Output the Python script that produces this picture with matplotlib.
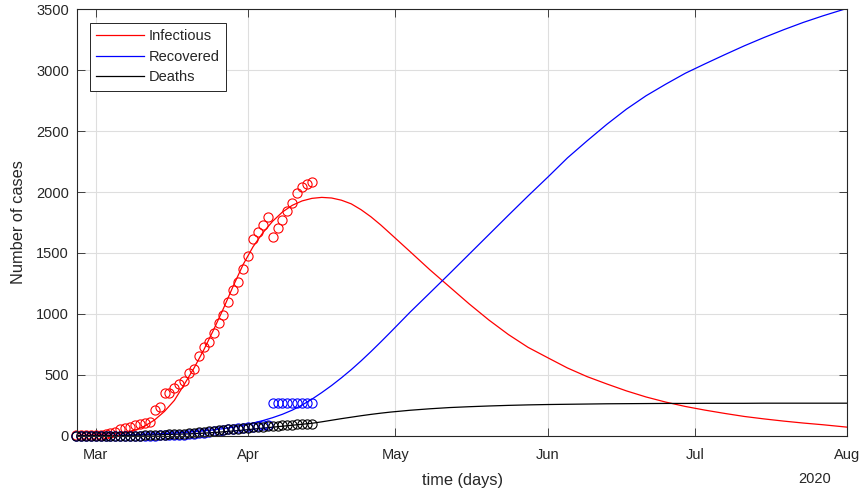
import numpy as np
import matplotlib
matplotlib.use('Agg')
import matplotlib.pyplot as plt
import matplotlib.dates as mdates

plt.rcParams['font.family'] = ['Liberation Sans', 'DejaVu Sans']

# ---------------- data ----------------
start_date = np.datetime64('2020-03-01')

# observations: day offsets from 1 March 2020
data_day = np.arange(-4, 45)
infectious_obs = [2, 2, 3, 3, 5, 8, 14, 25, 33, 52, 61, 74, 88, 96, 107, 116,
                  212, 237, 350, 352, 395, 425, 453, 515, 550, 653, 730, 769,
                  846, 928, 992, 1094, 1198, 1259, 1369, 1474, 1612, 1672,
                  1733, 1796, 1631, 1705, 1769, 1846, 1912, 1989, 2041, 2063, 2080]
recovered_obs = [0, 0, 0, 0, 0, 0, 0, 0, 0, 0, 0, 0, 0, 0, 0, 1, 1, 2, 2, 3, 4,
                 5, 8, 10, 15, 20, 25, 30, 35, 40, 46, 52, 58, 62, 66, 70, 74,
                 80, 85, 92, 267, 267, 267, 267, 267, 267, 267, 267, 267]
deaths_obs = [0, 0, 0, 0, 0, 0, 0, 0, 0, 0, 0, 0, 1, 1, 2, 3, 4, 6, 8, 10, 12,
              15, 18, 21, 24, 28, 32, 36, 40, 44, 48, 52, 56, 59, 62, 65, 68,
              71, 74, 77, 80, 83, 86, 88, 91, 93, 95, 97, 99]

# fitted model curves (day offsets from 1 March 2020)
model_day = [-4, -2, 0, 2, 4, 6, 8, 10, 12, 14, 16, 18, 20, 22, 24, 26, 28, 30,
             32, 34, 36, 38, 40, 42, 44, 46, 48, 50, 52, 54, 56, 58, 60, 64, 68,
             72, 76, 80, 84, 88, 92, 96, 100, 104, 108, 112, 116, 120, 124, 128,
             132, 136, 140, 144, 148, 152, 153]
infectious_model = [3, 5, 8, 13, 20, 30, 46, 80, 130, 200, 290, 420, 555, 705,
                    870, 1045, 1230, 1405, 1550, 1665, 1760, 1836, 1891, 1927,
                    1948, 1956, 1951, 1933, 1903, 1855, 1797, 1730, 1657, 1510,
                    1362, 1222, 1082, 950, 830, 725, 640, 556, 485, 425, 368,
                    318, 276, 240, 210, 183, 158, 138, 120, 104, 90, 74, 70]
recovered_model = [0, 1, 2, 3, 4, 6, 8, 11, 14, 18, 22, 27, 33, 40, 48, 58, 70,
                   86, 104, 124, 148, 176, 210, 252, 300, 354, 412, 475, 542,
                   614, 690, 769, 850, 1015, 1172, 1330, 1490, 1650, 1810, 1968,
                   2122, 2280, 2420, 2555, 2680, 2790, 2885, 2975, 3052, 3127,
                   3200, 3268, 3332, 3392, 3446, 3496, 3508]
deaths_model = [0, 0, 1, 1, 2, 3, 4, 5, 7, 9, 12, 14, 17, 21, 26, 32, 39, 46,
                54, 62, 70, 78, 86, 94, 102, 114, 127, 140, 152, 164, 175, 185,
                194, 209, 221, 231, 238, 244, 249, 253, 256, 258, 260, 262, 263,
                264, 265, 265, 266, 266, 266, 267, 267, 267, 267, 267, 267]

month_ticks = ['2020-03-01', '2020-04-01', '2020-05-01', '2020-06-01',
               '2020-07-01', '2020-08-01']
month_labels = ['Mar', 'Apr', 'May', 'Jun', 'Jul', 'Aug']
y_ticks = [0, 500, 1000, 1500, 2000, 2500, 3000, 3500]

# ---------------- plot ----------------
axc = '#262626'
fig = plt.figure(figsize=(8.59, 4.93), dpi=100)
ax = fig.add_axes([0.09, 0.1162, 0.8966, 0.8650])

data_dates = start_date + np.asarray(data_day).astype('timedelta64[D]')
model_dates = start_date + np.asarray(model_day).astype('timedelta64[D]')

ax.plot(model_dates, infectious_model, color='#ff0000', lw=0.9, label='Infectious')
ax.plot(model_dates, recovered_model, color='#0000ff', lw=0.9, label='Recovered')
ax.plot(model_dates, deaths_model, color='#000000', lw=0.9, label='Deaths')

mk = dict(linestyle='none', marker='o', markersize=6.6, markeredgewidth=0.8,
          markerfacecolor='none', clip_on=False)
ax.plot(data_dates, infectious_obs, markeredgecolor='#ff0000', **mk)
ax.plot(data_dates, recovered_obs, markeredgecolor='#0000ff', **mk)
ax.plot(data_dates, deaths_obs, markeredgecolor='#000000', **mk)

ax.set_xlim(np.datetime64('2020-02-26T06:00'), np.datetime64('2020-08-01'))
ax.set_ylim(0, 3500)
ax.set_xticks(mdates.date2num(np.array(month_ticks, dtype='datetime64[D]')))
ax.set_xticklabels(month_labels)
ax.set_yticks(y_ticks)

ax.grid(True, color='#dedede', linewidth=0.8)
ax.set_axisbelow(True)
for s in ax.spines.values():
    s.set_color(axc)
    s.set_linewidth(0.8)
ax.tick_params(axis='both', which='both', direction='in', length=5.5,
               width=0.6, colors=axc, labelsize=10.5, top=True, right=True)
ax.tick_params(axis='x', pad=9)
ax.tick_params(axis='y', pad=6)

ax.set_xlabel('time (days)', fontsize=11.8, color=axc, va='center')
ax.xaxis.set_label_coords(0.5, (435.7 - 480) / 426.4)
ax.set_ylabel('Number of cases', fontsize=11.8, color=axc, va='center')
ax.yaxis.set_label_coords((18 - 77.3) / 770.2, 0.5)

ax.text((815 - 77.3) / 770.2, (435.7 - 479) / 426.4, '2020', transform=ax.transAxes,
        ha='center', va='center', fontsize=10.5, color=axc)

leg = ax.legend(loc='upper left', bbox_to_anchor=(0.0165, 0.9686),
                borderaxespad=0, fontsize=10.5, handlelength=3.3,
                handletextpad=0.3, labelspacing=0.47, borderpad=0.42,
                fancybox=False, framealpha=1, edgecolor=axc)
leg.get_frame().set_linewidth(0.7)
for t in leg.get_texts():
    t.set_color(axc)

fig.savefig('out.png', dpi=100)
